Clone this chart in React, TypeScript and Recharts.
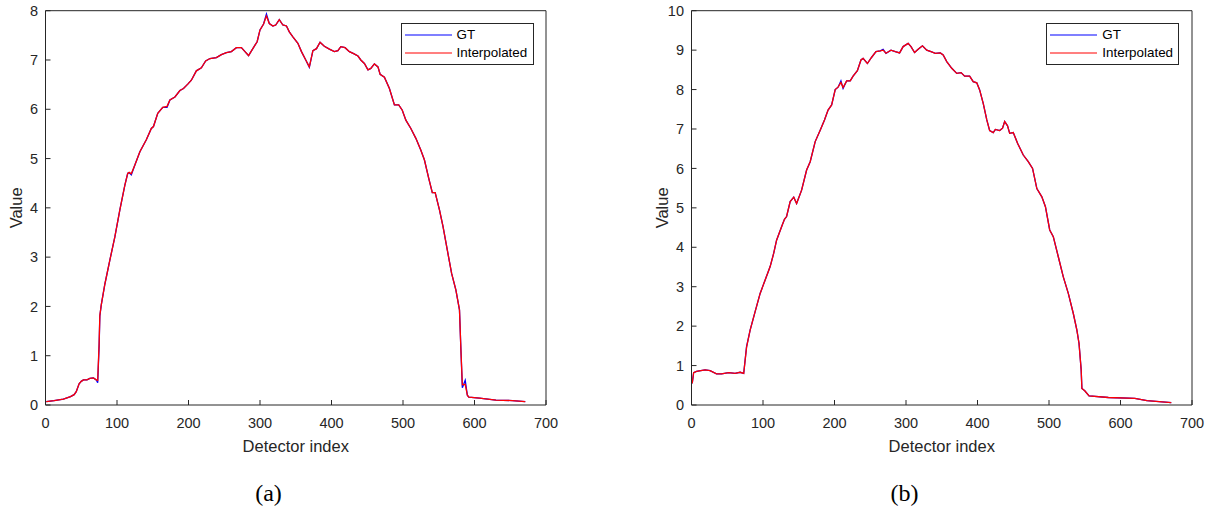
import { LineChart, Line, XAxis, YAxis, Legend } from 'recharts';

const xTicks = [0, 100, 200, 300, 400, 500, 600, 700];
const yTicksA = [0, 1, 2, 3, 4, 5, 6, 7, 8];
const yTicksB = [0, 1, 2, 3, 4, 5, 6, 7, 8, 9, 10];

// panel (a)
const idxA = [1, 12, 25, 35, 40, 43, 47, 50, 53, 58, 62, 67, 71, 73, 75, 76, 78, 83, 90, 97, 104, 111, 115, 117, 120, 125, 132, 141, 148, 151, 157, 164, 170, 174, 181, 188, 193, 199, 204, 211, 218, 224, 230, 239, 246, 253, 260, 267, 274, 279, 284, 290, 296, 300, 305, 309, 313, 318, 322, 327, 332, 337, 341, 346, 353, 358, 364, 369, 374, 379, 384, 390, 397, 404, 409, 413, 419, 425, 431, 437, 441, 446, 451, 455, 460, 465, 468, 474, 481, 488, 494, 499, 504, 511, 518, 525, 530, 536, 541, 545, 551, 556, 562, 568, 574, 579, 581, 583, 587, 590, 592, 607, 630, 653, 671];
const gtA = [0.07, 0.09, 0.12, 0.17, 0.21, 0.27, 0.43, 0.48, 0.51, 0.51, 0.54, 0.55, 0.51, 0.45, 1.2, 1.8, 2.03, 2.45, 2.94, 3.41, 3.96, 4.46, 4.7, 4.71, 4.67, 4.87, 5.14, 5.38, 5.61, 5.65, 5.92, 6.04, 6.04, 6.19, 6.25, 6.38, 6.42, 6.51, 6.59, 6.78, 6.84, 6.98, 7.03, 7.05, 7.11, 7.15, 7.17, 7.25, 7.25, 7.17, 7.09, 7.23, 7.37, 7.61, 7.73, 7.93, 7.74, 7.69, 7.71, 7.82, 7.71, 7.69, 7.57, 7.47, 7.34, 7.17, 7.0, 6.85, 7.19, 7.23, 7.36, 7.28, 7.22, 7.17, 7.19, 7.27, 7.25, 7.17, 7.13, 7.08, 7.0, 6.93, 6.8, 6.83, 6.92, 6.86, 6.71, 6.65, 6.42, 6.09, 6.09, 5.98, 5.78, 5.61, 5.41, 5.17, 4.97, 4.6, 4.31, 4.31, 3.96, 3.62, 3.14, 2.67, 2.33, 1.93, 1.12, 0.35, 0.5, 0.2, 0.16, 0.14, 0.1, 0.09, 0.07];
const interpA = [0.07, 0.09, 0.12, 0.17, 0.21, 0.27, 0.43, 0.48, 0.51, 0.51, 0.54, 0.55, 0.51, 0.5, 1.25, 1.82, 2.03, 2.45, 2.94, 3.41, 3.96, 4.46, 4.7, 4.72, 4.69, 4.87, 5.14, 5.38, 5.61, 5.65, 5.92, 6.04, 6.06, 6.19, 6.25, 6.38, 6.42, 6.51, 6.59, 6.78, 6.84, 6.98, 7.03, 7.05, 7.11, 7.15, 7.17, 7.25, 7.25, 7.17, 7.09, 7.23, 7.37, 7.61, 7.73, 7.89, 7.74, 7.69, 7.71, 7.82, 7.71, 7.69, 7.57, 7.47, 7.34, 7.17, 7.0, 6.86, 7.19, 7.23, 7.36, 7.28, 7.22, 7.17, 7.19, 7.27, 7.25, 7.17, 7.13, 7.08, 7.0, 6.93, 6.8, 6.83, 6.92, 6.86, 6.71, 6.65, 6.42, 6.09, 6.09, 5.98, 5.78, 5.61, 5.41, 5.17, 4.97, 4.6, 4.31, 4.31, 3.96, 3.62, 3.14, 2.67, 2.33, 1.93, 1.12, 0.41, 0.42, 0.2, 0.16, 0.14, 0.1, 0.09, 0.07];

// panel (b)
const idxB = [1, 3, 7, 19, 26, 35, 42, 52, 61, 68, 73, 77, 82, 89, 96, 103, 110, 115, 119, 126, 130, 133, 138, 143, 147, 154, 161, 166, 173, 180, 186, 191, 196, 201, 205, 209, 212, 217, 222, 226, 232, 237, 240, 246, 252, 258, 264, 268, 272, 279, 285, 291, 296, 303, 307, 312, 317, 323, 329, 335, 341, 348, 352, 357, 364, 371, 377, 382, 389, 394, 399, 403, 408, 413, 417, 422, 425, 431, 435, 438, 442, 445, 450, 456, 464, 471, 477, 483, 490, 495, 501, 506, 513, 520, 527, 534, 539, 542, 545, 546, 550, 556, 583, 620, 637, 671];
const gtB = [0.55, 0.82, 0.85, 0.89, 0.87, 0.79, 0.79, 0.82, 0.8, 0.83, 0.8, 1.48, 1.9, 2.37, 2.83, 3.17, 3.51, 3.85, 4.18, 4.52, 4.71, 4.78, 5.16, 5.27, 5.11, 5.45, 5.96, 6.17, 6.68, 6.97, 7.23, 7.48, 7.61, 8.0, 8.06, 8.22, 8.03, 8.22, 8.22, 8.34, 8.48, 8.75, 8.79, 8.66, 8.82, 8.96, 8.98, 9.02, 8.92, 9.0, 8.96, 8.93, 9.09, 9.17, 9.09, 8.94, 9.02, 9.11, 9.0, 8.96, 8.92, 8.93, 8.88, 8.71, 8.54, 8.41, 8.43, 8.34, 8.34, 8.2, 8.17, 7.99, 7.65, 7.23, 6.96, 6.91, 6.99, 6.96, 7.02, 7.19, 7.08, 6.89, 6.91, 6.64, 6.34, 6.17, 6.0, 5.49, 5.28, 5.03, 4.44, 4.27, 3.76, 3.25, 2.83, 2.32, 1.9, 1.56, 0.89, 0.42, 0.36, 0.23, 0.19, 0.17, 0.11, 0.06];
const interpB = [0.55, 0.82, 0.85, 0.89, 0.87, 0.79, 0.79, 0.82, 0.8, 0.83, 0.8, 1.46, 1.9, 2.37, 2.83, 3.17, 3.51, 3.85, 4.18, 4.52, 4.71, 4.78, 5.16, 5.27, 5.11, 5.45, 5.96, 6.17, 6.68, 6.97, 7.23, 7.48, 7.61, 8.0, 8.06, 8.18, 8.05, 8.22, 8.22, 8.34, 8.48, 8.75, 8.79, 8.66, 8.82, 8.96, 8.98, 9.0, 8.92, 9.0, 8.96, 8.93, 9.09, 9.17, 9.09, 8.94, 9.02, 9.11, 9.0, 8.96, 8.92, 8.93, 8.88, 8.71, 8.54, 8.41, 8.43, 8.34, 8.34, 8.2, 8.17, 7.99, 7.65, 7.23, 6.96, 6.91, 6.99, 6.96, 7.02, 7.19, 7.08, 6.89, 6.91, 6.64, 6.34, 6.17, 6.0, 5.49, 5.28, 5.03, 4.44, 4.27, 3.76, 3.25, 2.83, 2.32, 1.9, 1.56, 0.89, 0.42, 0.36, 0.23, 0.19, 0.17, 0.11, 0.06];

const AXIS = '#262626';
const FONT = '"Liberation Sans", Arial, Helvetica, sans-serif';

const toRows = (idx: number[], gt: number[], interp: number[]) =>
  idx.map((x, i) => ({ idx: x, gt: gt[i], interp: interp[i] }));

function LegendBox({ payload }: any) {
  return (
    <div
      style={{
        width: 133,
        height: 42,
        boxSizing: 'border-box',
        border: `1px solid ${AXIS}`,
        background: '#fff',
        paddingTop: 2,
        paddingLeft: 3,
        fontFamily: FONT,
        fontSize: 13.4,
        color: '#000',
      }}
    >
      {(payload || []).map((p: any) => (
        <div key={p.value} style={{ display: 'flex', alignItems: 'center', height: 18 }}>
          <svg width={47} height={4} style={{ display: 'block' }}>
            <line x1={0} x2={47} y1={2} y2={2} stroke={p.color} strokeWidth={1.2} />
          </svg>
          <span style={{ marginLeft: 5, lineHeight: '18px' }}>{p.value}</span>
        </div>
      ))}
    </div>
  );
}

function YTitle({ viewBox }: any) {
  const cx = (viewBox?.x ?? 0) + 16;
  const cy = (viewBox?.y ?? 0) + (viewBox?.height ?? 0) / 2;
  return (
    <text
      x={cx}
      y={cy}
      transform={`rotate(-90 ${cx} ${cy})`}
      textAnchor="middle"
      dominantBaseline="central"
      fill={AXIS}
      fontSize={16.5}
      fontFamily={FONT}
    >
      Value
    </text>
  );
}

function Panel({ rows, yMax, yTicks }: { rows: any[]; yMax: number; yTicks: number[] }) {
  return (
    <LineChart width={560} height={470} data={rows} margin={{ top: 9.7, right: 13, left: 0, bottom: 0 }}>
      <XAxis
        dataKey="idx"
        type="number"
        domain={[0, 700]}
        ticks={xTicks}
        height={65}
        tickSize={-5}
        tickMargin={17.4}
        stroke={AXIS}
        tick={{ fill: AXIS, fontSize: 14.5, fontFamily: FONT }}
        label={{ value: 'Detector index', position: 'insideBottom', offset: 18.3, fill: AXIS, fontSize: 16.5, fontFamily: FONT }}
      />
      <XAxis
        xAxisId="top"
        orientation="top"
        dataKey="idx"
        type="number"
        domain={[0, 700]}
        ticks={xTicks}
        height={1}
        tickSize={-5}
        tick={false}
        stroke={AXIS}
      />
      <YAxis
        type="number"
        domain={[0, yMax]}
        ticks={yTicks}
        width={45.5}
        tickSize={-5}
        tickMargin={12.5}
        stroke={AXIS}
        tick={{ fill: AXIS, fontSize: 14.5, fontFamily: FONT }}
        label={<YTitle />}
      />
      <YAxis
        yAxisId="right"
        orientation="right"
        type="number"
        domain={[0, yMax]}
        ticks={yTicks}
        width={1}
        tickSize={-5}
        tick={false}
        stroke={AXIS}
      />
      <Legend
        layout="vertical"
        align="center"
        verticalAlign="middle"
        content={<LegendBox />}
        wrapperStyle={{ left: 400.5, top: 22.5, width: 133, height: 42 }}
      />
      <Line dataKey="gt" name="GT" type="linear" stroke="#0000ff" strokeWidth={1.3} dot={false} isAnimationActive={false} />
      <Line dataKey="interp" name="Interpolated" type="linear" stroke="#ff0000" strokeWidth={1.3} dot={false} isAnimationActive={false} />
    </LineChart>
  );
}

const captionStyle = {
  position: 'absolute' as const,
  top: 481,
  fontFamily: '"Liberation Serif", "Times New Roman", serif',
  fontSize: 24,
  lineHeight: '24px',
  color: '#000',
  textAlign: 'center' as const,
  width: 60,
};

export default function App() {
  return (
    <div style={{ position: 'absolute', left: 0, top: 0, width: 1212, height: 511, background: '#fff', overflow: 'hidden' }}>
      <div style={{ position: 'absolute', left: 0, top: 0 }}>
        <Panel rows={toRows(idxA, gtA, interpA)} yMax={8} yTicks={yTicksA} />
      </div>
      <div style={{ position: 'absolute', left: 645.8, top: 0 }}>
        <Panel rows={toRows(idxB, gtB, interpB)} yMax={10} yTicks={yTicksB} />
      </div>
      <div style={{ ...captionStyle, left: 268.5 - 30 }}>(a)</div>
      <div style={{ ...captionStyle, left: 904.5 - 30 }}>(b)</div>
    </div>
  );
}
